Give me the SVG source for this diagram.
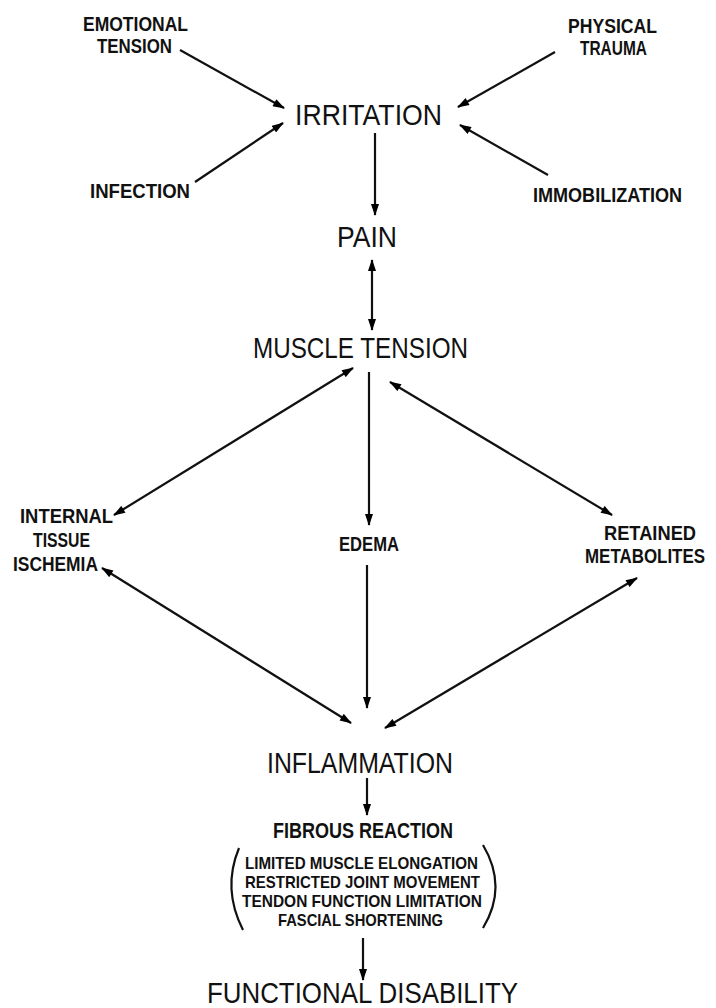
<svg xmlns="http://www.w3.org/2000/svg" width="716" height="1008" viewBox="0 0 716 1008">
<defs>
<marker id="ah" viewBox="0 0 12 8" refX="11" refY="4" markerWidth="13" markerHeight="8" markerUnits="userSpaceOnUse" orient="auto-start-reverse">
<path d="M0,0 L12,4 L0,8 z" fill="#000"/>
</marker>
<style>
text{font-family:"Liberation Sans","DejaVu Sans",sans-serif;fill:#111;text-anchor:middle}
.s{font-size:21px;font-weight:bold}
.p{font-size:17px;font-weight:bold}
.m{font-size:22px;font-weight:bold}
.l{font-size:30px}
.c{fill:none;stroke:#111;stroke-width:2.2}
.one{marker-end:url(#ah)}
.two{marker-start:url(#ah);marker-end:url(#ah)}
</style>
</defs>
<rect width="716" height="1008" fill="#fff"/>
<g id="connectors">
<path class="c one" d="M180,50 L284,108"/>
<path class="c one" d="M555,52 L458,107"/>
<path class="c one" d="M195,182 L283,123"/>
<path class="c one" d="M548,175 L460,125"/>
<path class="c one" d="M375,133 L375,215"/>
<path class="c two" d="M372,260 L372,330"/>
<path class="c two" d="M353,368 L114,515"/>
<path class="c one" d="M369,372 L369,525"/>
<path class="c two" d="M390,382 L612,515"/>
<path class="c two" d="M102,568 L351,723"/>
<path class="c one" d="M367,565 L367,708"/>
<path class="c two" d="M637,578 L385,728"/>
<path class="c one" d="M367,778 L367,815"/>
<path class="c one" d="M363,938 L363,980"/>
</g>
<g id="emotional-tension">
<text class="s" x="135.5" y="31" textLength="105" lengthAdjust="spacingAndGlyphs">EMOTIONAL</text>
<text class="s" x="134.5" y="53" textLength="75" lengthAdjust="spacingAndGlyphs">TENSION</text>
</g>
<g id="physical-trauma">
<text class="s" x="612.5" y="33" textLength="89" lengthAdjust="spacingAndGlyphs">PHYSICAL</text>
<text class="s" x="613.5" y="55" textLength="67" lengthAdjust="spacingAndGlyphs">TRAUMA</text>
</g>
<g id="irritation">
<text class="l" x="368.5" y="125" font-size="31" textLength="147" lengthAdjust="spacingAndGlyphs">IRRITATION</text>
</g>
<g id="infection">
<text class="s" x="140" y="198" textLength="100" lengthAdjust="spacingAndGlyphs">INFECTION</text>
</g>
<g id="immobilization">
<text class="s" x="607.5" y="202" font-size="19" textLength="149" lengthAdjust="spacingAndGlyphs">IMMOBILIZATION</text>
</g>
<g id="pain">
<text class="l" x="367" y="247" font-size="28" textLength="60" lengthAdjust="spacingAndGlyphs">PAIN</text>
</g>
<g id="muscle-tension">
<text class="l" x="360.5" y="358" font-size="28" textLength="215" lengthAdjust="spacingAndGlyphs">MUSCLE TENSION</text>
</g>
<g id="internal-tissue-ischemia">
<text class="s" x="66.5" y="523" textLength="93" lengthAdjust="spacingAndGlyphs">INTERNAL</text>
<text class="s" x="61.5" y="547" textLength="57" lengthAdjust="spacingAndGlyphs">TISSUE</text>
<text class="s" x="55.5" y="571" textLength="85" lengthAdjust="spacingAndGlyphs">ISCHEMIA</text>
</g>
<g id="edema">
<text class="s" x="369" y="551" textLength="60" lengthAdjust="spacingAndGlyphs">EDEMA</text>
</g>
<g id="retained-metabolites">
<text class="s" x="650" y="540" textLength="92" lengthAdjust="spacingAndGlyphs">RETAINED</text>
<text class="s" x="645" y="563" font-size="18" textLength="120" lengthAdjust="spacingAndGlyphs">METABOLITES</text>
</g>
<g id="inflammation">
<text class="l" x="360" y="773" font-size="29" textLength="186" lengthAdjust="spacingAndGlyphs">INFLAMMATION</text>
</g>
<g id="fibrous-reaction">
<text class="m" x="363" y="838" textLength="180" lengthAdjust="spacingAndGlyphs">FIBROUS REACTION</text>
<path class="c" d="M239,848 Q222,889 243,930"/>
<path class="c" d="M483,845 Q508,887 483,928"/>
<text class="p" x="361.5" y="869" textLength="233" lengthAdjust="spacingAndGlyphs">LIMITED MUSCLE ELONGATION</text>
<text class="p" x="362.5" y="888" textLength="235" lengthAdjust="spacingAndGlyphs">RESTRICTED JOINT MOVEMENT</text>
<text class="p" x="362" y="907" textLength="240" lengthAdjust="spacingAndGlyphs">TENDON FUNCTION LIMITATION</text>
<text class="p" x="360.5" y="926" textLength="165" lengthAdjust="spacingAndGlyphs">FASCIAL SHORTENING</text>
</g>
<g id="functional-disability">
<text class="l" x="362.5" y="1003" font-size="29" textLength="311" lengthAdjust="spacingAndGlyphs">FUNCTIONAL DISABILITY</text>
</g>
</svg>
